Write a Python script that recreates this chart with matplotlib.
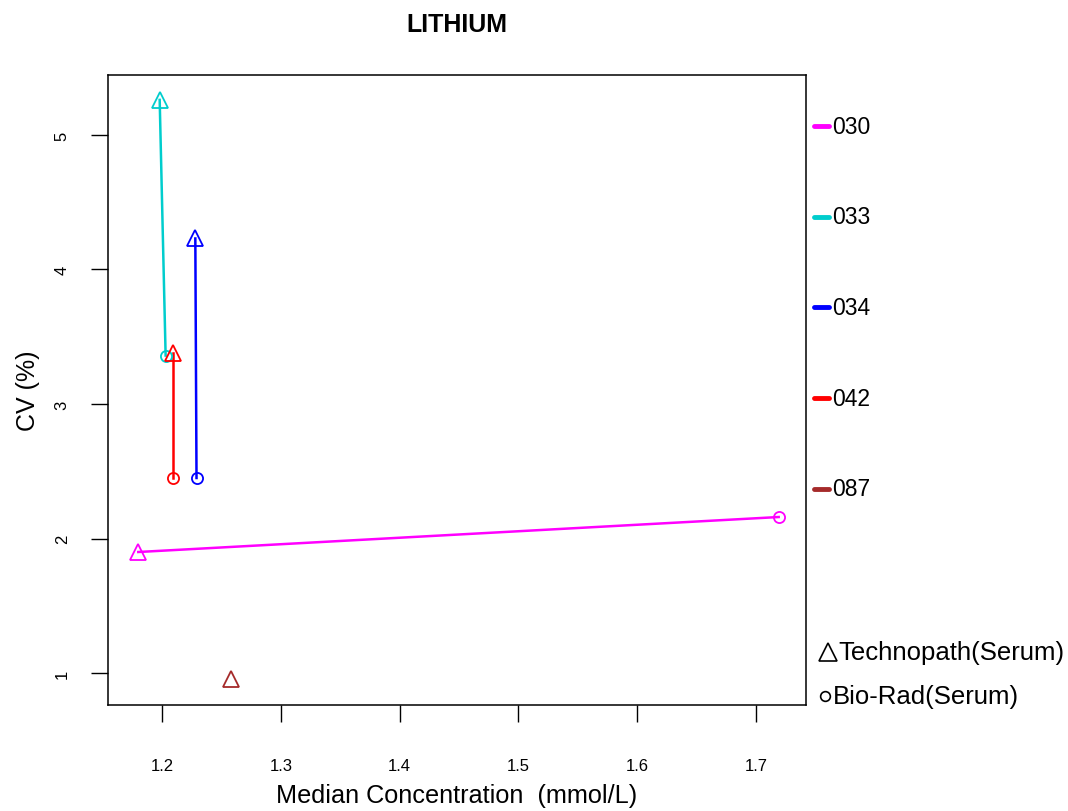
import matplotlib
matplotlib.use('Agg')
import matplotlib.pyplot as plt
from matplotlib.lines import Line2D

plt.rcParams['font.family'] = ['Liberation Sans', 'DejaVu Sans']

# lab codes and their colours
labs = ['030', '033', '034', '042', '087']
lab_colors = ['#FF00FF', '#00CDCD', '#0000FF', '#FF0000', '#A52A2A']

# Technopath (serum) results per lab: median conc, CV
techno_conc = [1.18, 1.198, 1.228, 1.209, 1.258]
techno_cv = [1.90, 5.26, 4.23, 3.38, 0.955]

# Bio-Rad (serum) results per lab (087 has none)
biorad_conc = [1.719, 1.203, 1.229, 1.209, None]
biorad_cv = [2.16, 3.36, 2.45, 2.45, None]

x_ticks = [1.2, 1.3, 1.4, 1.5, 1.6, 1.7]
y_ticks = [1, 2, 3, 4, 5]

W, H = 1068, 812
fig = plt.figure(figsize=(W / 100, H / 100), dpi=100)
ax = fig.add_axes([108 / W, 1 - 706 / H, (806 - 108) / W, (706 - 76) / H])

for i, lab in enumerate(labs):
    col = lab_colors[i]
    if biorad_conc[i] is not None:
        ax.plot([techno_conc[i], biorad_conc[i]], [techno_cv[i], biorad_cv[i]],
                color=col, lw=1.8, zorder=2)
        ax.plot(biorad_conc[i], biorad_cv[i], 'o', mfc='none', mec=col,
                ms=8, mew=1.3, zorder=3)
    ax.plot(techno_conc[i], techno_cv[i], '^', mfc='none', mec=col,
            ms=11, mew=1.3, zorder=3)

ax.set_xlim(1.1545, 1.742)
ax.set_ylim(0.763, 5.445)
ax.set_xticks(x_ticks)
ax.set_xticklabels([str(v) for v in x_ticks])
ax.set_yticks(y_ticks)
ax.set_yticklabels([str(v) for v in y_ticks], rotation=90, va='center')
ax.tick_params(direction='out', length=12.5, width=1, labelsize=12)
ax.tick_params(axis='x', pad=26)
ax.tick_params(axis='y', pad=15)
for s in ax.spines.values():
    s.set_linewidth(1.1)

ax.set_xlabel('Median Concentration  (mmol/L)', fontsize=18.2)
ax.xaxis.set_label_coords(0.5, (706 - 784) / 630)
ax.set_ylabel('CV (%)', fontsize=18)
ax.yaxis.set_label_coords((40 - 108) / 698, 0.5)
fig.text(457 / W, 1 - 25 / H, 'LITHIUM', fontsize=18, fontweight='bold',
         ha='center', va='center')

# lab legend on the right
for i, lab in enumerate(labs):
    y = 1 - (127 + 90.7 * i) / H
    fig.add_artist(Line2D([814 / W, 829 / W], [y, y], color=lab_colors[i],
                          lw=3.5, solid_capstyle='round'))
    fig.text(832 / W, y, lab, fontsize=16.5, ha='left', va='center')

# material legend
y_t = 1 - 653 / H
y_c = 1 - 697 / H
fig.add_artist(Line2D([827.5 / W], [y_t], marker='^', ms=13.5, mfc='none',
                      mec='black', mew=1.2, ls='none'))
fig.text(838 / W, y_t, 'Technopath(Serum)', fontsize=18.5, ha='left', va='center')
fig.add_artist(Line2D([825 / W], [y_c], marker='o', ms=7, mfc='none',
                      mec='black', mew=1.2, ls='none'))
fig.text(833 / W, y_c, 'Bio-Rad(Serum)', fontsize=18.5, ha='left', va='center')

fig.savefig('out.png', dpi=100)
